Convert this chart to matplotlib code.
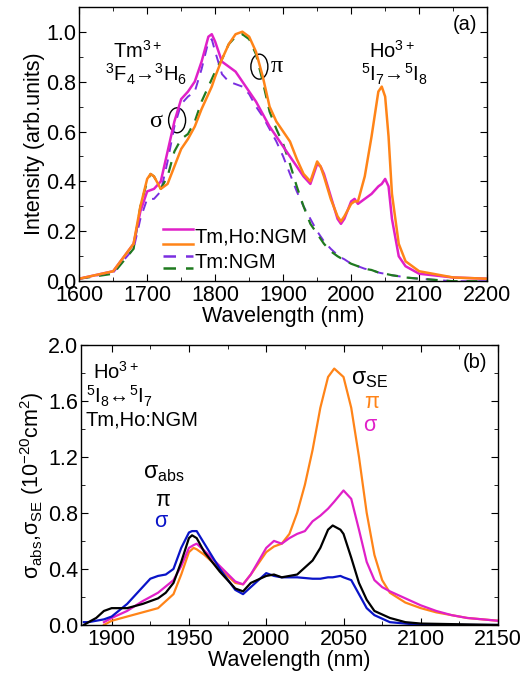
import numpy as np
import matplotlib
matplotlib.use("Agg")
from matplotlib import pyplot as plt
from matplotlib.patches import Ellipse
from matplotlib.ticker import MultipleLocator

plt.rcParams['font.family'] = ['Liberation Sans', 'DejaVu Sans']
plt.rcParams['mathtext.fontset'] = 'custom'
plt.rcParams['mathtext.rm'] = 'Liberation Sans'
plt.rcParams['mathtext.it'] = 'Liberation Sans'
plt.rcParams['mathtext.default'] = 'rm'

# ---- panel (a): luminescence spectra ----
wl_a = [1600, 1650, 1680, 1690, 1700, 1705, 1710, 1720, 1730, 1740, 1750, 1760, 1770, 1780,
        1790, 1795, 1800, 1810, 1820, 1830, 1840, 1850, 1860, 1870, 1880, 1890, 1900, 1910,
        1920, 1930, 1940, 1950, 1955, 1960, 1970, 1980, 1985, 1990, 2000, 2005, 2010, 2020,
        2030, 2040, 2045, 2050, 2055, 2060, 2070, 2080, 2100, 2150, 2200]
tmho_sigma = [0.01, 0.04, 0.15, 0.28, 0.36, 0.365, 0.37, 0.40, 0.52, 0.64, 0.73, 0.76, 0.80, 0.88,
              0.98, 0.99, 0.96, 0.88, 0.86, 0.84, 0.80, 0.76, 0.72, 0.67, 0.62, 0.58, 0.54, 0.50,
              0.46, 0.42, 0.39, 0.47, 0.46, 0.43, 0.34, 0.25, 0.23, 0.25, 0.32, 0.33, 0.31, 0.33,
              0.35, 0.38, 0.39, 0.41, 0.38, 0.25, 0.10, 0.06, 0.03, 0.015, 0.01]
tmho_pi = [0.01, 0.04, 0.15, 0.30, 0.41, 0.43, 0.42, 0.37, 0.39, 0.46, 0.53, 0.57, 0.62, 0.69,
           0.75, 0.78, 0.82, 0.89, 0.95, 0.99, 1.00, 0.98, 0.92, 0.82, 0.70, 0.64, 0.60, 0.56,
           0.49, 0.43, 0.40, 0.48, 0.46, 0.42, 0.33, 0.26, 0.24, 0.26, 0.31, 0.32, 0.32, 0.42,
           0.58, 0.76, 0.78, 0.74, 0.58, 0.35, 0.15, 0.08, 0.04, 0.015, 0.01]
tm_sigma = [0.01, 0.035, 0.13, 0.25, 0.33, 0.33, 0.33, 0.36, 0.48, 0.62, 0.71, 0.74, 0.76, 0.85,
            0.96, 0.97, 0.92, 0.83, 0.80, 0.79, 0.78, 0.75, 0.70, 0.66, 0.61, 0.56, 0.50, 0.43,
            0.36, 0.30, 0.25, 0.20, 0.18, 0.16, 0.13, 0.105, 0.095, 0.088, 0.07, 0.065, 0.06, 0.05,
            0.045, 0.035, 0.032, 0.03, 0.027, 0.024, 0.02, 0.015, 0.01, 0.0, 0.0]
tm_pi = [0.01, 0.03, 0.13, 0.30, 0.40, 0.43, 0.42, 0.37, 0.42, 0.52, 0.57, 0.59, 0.64, 0.72,
         0.78, 0.81, 0.84, 0.89, 0.95, 0.98, 0.99, 0.97, 0.91, 0.80, 0.68, 0.61, 0.55, 0.47,
         0.38, 0.30, 0.23, 0.19, 0.17, 0.15, 0.12, 0.10, 0.092, 0.085, 0.07, 0.065, 0.06, 0.05,
         0.045, 0.035, 0.032, 0.03, 0.027, 0.024, 0.02, 0.015, 0.01, 0.0, 0.0]

# ---- panel (b): cross-sections ----
wl_se = [1895, 1900, 1910, 1920, 1930, 1940, 1945, 1950, 1953, 1955, 1960, 1970, 1980, 1985,
         1990, 2000, 2005, 2010, 2015, 2020, 2025, 2030, 2035, 2040, 2044, 2050, 2055, 2060,
         2065, 2070, 2075, 2080, 2090, 2100, 2110, 2120, 2130, 2140, 2150]
se_pi = [0.0, 0.03, 0.06, 0.09, 0.12, 0.22, 0.36, 0.52, 0.55, 0.54, 0.50, 0.40, 0.30, 0.29,
         0.36, 0.52, 0.56, 0.58, 0.65, 0.80, 1.00, 1.25, 1.55, 1.77, 1.83, 1.77, 1.55, 1.20,
         0.80, 0.50, 0.32, 0.23, 0.16, 0.12, 0.09, 0.07, 0.05, 0.04, 0.03]
se_sigma = [0.02, 0.05, 0.10, 0.17, 0.23, 0.32, 0.42, 0.55, 0.57, 0.58, 0.53, 0.42, 0.31, 0.29,
            0.36, 0.55, 0.60, 0.58, 0.62, 0.65, 0.67, 0.74, 0.78, 0.83, 0.88, 0.96, 0.90, 0.68,
            0.45, 0.32, 0.27, 0.24, 0.19, 0.14, 0.10, 0.07, 0.05, 0.04, 0.03]

wl_abs = [1882, 1885, 1890, 1895, 1900, 1910, 1920, 1925, 1930, 1935, 1940, 1945, 1950, 1952,
          1955, 1960, 1970, 1980, 1985, 1990, 2000, 2005, 2010, 2020, 2030, 2035, 2040, 2043,
          2048, 2050, 2055, 2060, 2065, 2070, 2080, 2090, 2100, 2150]
abs_pi = [0.0, 0.02, 0.05, 0.10, 0.12, 0.12, 0.15, 0.17, 0.19, 0.23, 0.30, 0.45, 0.62, 0.64,
          0.62, 0.52, 0.38, 0.26, 0.24, 0.30, 0.35, 0.36, 0.34, 0.36, 0.46, 0.55, 0.68, 0.71,
          0.68, 0.65, 0.48, 0.30, 0.18, 0.10, 0.05, 0.02, 0.01, 0.0]
abs_sigma = [0.02, 0.02, 0.03, 0.04, 0.06, 0.15, 0.27, 0.33, 0.35, 0.36, 0.40, 0.55, 0.66, 0.67,
             0.67, 0.58, 0.40, 0.25, 0.22, 0.27, 0.37, 0.35, 0.34, 0.34, 0.33, 0.33, 0.34, 0.34,
             0.35, 0.34, 0.32, 0.22, 0.12, 0.07, 0.02, 0.01, 0.0, 0.0]

MAGENTA = '#e020c8'
ORANGE = '#ff8418'
PURPLE = '#7a2ee0'
GREEN = '#1f7a1f'
BLUE = '#0a14c8'

fig = plt.figure(figsize=(5.21, 6.76), dpi=100)
ax1 = fig.add_axes([0.152, 0.584, 0.783, 0.406])
ax2 = fig.add_axes([0.155, 0.0755, 0.801, 0.4145])

fs = 15.5
fa = 14.5  # annotation size


def style_axis(ax):
    ax.tick_params(which='both', direction='in', top=True, right=True, labelsize=fs)
    ax.tick_params(axis='x', pad=3)
    ax.tick_params(axis='y', pad=2)
    ax.tick_params(which='major', length=5)
    ax.tick_params(which='minor', length=3)
    for s in ax.spines.values():
        s.set_linewidth(1.0)


# panel (a)
ax1.plot(wl_a, tm_sigma, color=PURPLE, lw=1.4, ls=(0, (5, 4)))
ax1.plot(wl_a, tm_pi, color=GREEN, lw=1.6, ls=(0, (5, 4)))
ax1.plot(wl_a, tmho_sigma, color=MAGENTA, lw=1.8)
ax1.plot(wl_a, tmho_pi, color=ORANGE, lw=1.8)
ax1.set_xlim(1600, 2200)
ax1.set_ylim(0, 1.1)
ax1.xaxis.set_major_locator(MultipleLocator(100))
ax1.xaxis.set_minor_locator(MultipleLocator(50))
ax1.set_yticks([0, 0.2, 0.4, 0.6, 0.8, 1.0])
ax1.yaxis.set_minor_locator(MultipleLocator(0.1))
ax1.set_xlabel('Wavelength (nm)', fontsize=fs, labelpad=0)
ax1.set_ylabel('Intensity (arb.units)', fontsize=fs, labelpad=1)
style_axis(ax1)

ax1.text(0.975, 0.935, '(a)', transform=ax1.transAxes, ha='right', va='center', fontsize=fa)
ax1.text(1686, 0.925, 'Tm$^{3+}$', ha='center', va='center', fontsize=fa)
ax1.text(1698, 0.83, '$^3$F$_4$\u2192$^3$H$_6$', ha='center', va='center', fontsize=fa)
ax1.text(2060, 0.925, 'Ho$^{3+}$', ha='center', va='center', fontsize=fa)
ax1.text(2063, 0.83, '$^5$I$_7$\u2192$^5$I$_8$', ha='center', va='center', fontsize=fa)
ax1.text(1712, 0.64, '\u03c3', ha='center', va='center', fontsize=fs + 2, family='Liberation Serif')
ax1.text(1891, 0.86, '\u03c0', ha='center', va='center', fontsize=fs + 2, family='Liberation Serif')
ax1.add_patch(Ellipse((1744, 0.645), 25, 0.10, fill=False, lw=1.0, ec='black'))
ax1.add_patch(Ellipse((1865, 0.86), 25, 0.10, fill=False, lw=1.0, ec='black'))

# stacked legend handles
for yy, col, ls in [(0.190, MAGENTA, '-'), (0.135, ORANGE, '-'),
                    (0.092, PURPLE, (0, (5, 4))), (0.048, GREEN, (0, (5, 4)))]:
    ax1.plot([0.206, 0.279], [yy, yy], transform=ax1.transAxes, color=col, lw=1.8, ls=ls)
ax1.text(0.283, 0.160, 'Tm,Ho:NGM', transform=ax1.transAxes, ha='left', va='center', fontsize=fa)
ax1.text(0.283, 0.068, 'Tm:NGM', transform=ax1.transAxes, ha='left', va='center', fontsize=fa)

# panel (b)
ax2.plot(wl_se, se_pi, color=ORANGE, lw=1.6)
ax2.plot(wl_se, se_sigma, color=MAGENTA, lw=1.6)
ax2.plot(wl_abs, abs_sigma, color=BLUE, lw=1.6)
ax2.plot(wl_abs, abs_pi, color='black', lw=1.6)
ax2.set_xlim(1880, 2150)
ax2.set_ylim(0, 2.0)
ax2.xaxis.set_major_locator(MultipleLocator(50))
ax2.xaxis.set_minor_locator(MultipleLocator(25))
ax2.yaxis.set_major_locator(MultipleLocator(0.4))
ax2.yaxis.set_minor_locator(MultipleLocator(0.2))
ax2.set_xlabel('Wavelength (nm)', fontsize=fs, labelpad=0)
ax2.set_ylabel('\u03c3$_{abs}$,\u03c3$_{SE}$ (10$^{-20}$cm$^2$)', fontsize=fs, labelpad=1)
style_axis(ax2)

ax2.text(0.974, 0.936, '(b)', transform=ax2.transAxes, ha='right', va='center', fontsize=fa)
ax2.text(1903, 1.81, 'Ho$^{3+}$', ha='center', va='center', fontsize=fa)
ax2.text(1905, 1.63, '$^5$I$_8$\u2194$^5$I$_7$', ha='center', va='center', fontsize=fa)
ax2.text(1919.5, 1.46, 'Tm,Ho:NGM', ha='center', va='center', fontsize=fa)
ax2.text(2067, 1.76, '\u03c3$_{SE}$', ha='center', va='center', fontsize=fs + 1)
ax2.text(2068, 1.585, '\u03c0', ha='center', va='center', fontsize=fs, color=ORANGE)
ax2.text(2067, 1.425, '\u03c3', ha='center', va='center', fontsize=fs, color=MAGENTA)
ax2.text(1934, 1.09, '\u03c3$_{abs}$', ha='center', va='center', fontsize=fs + 1)
ax2.text(1933, 0.89, '\u03c0', ha='center', va='center', fontsize=fs)
ax2.text(1932, 0.74, '\u03c3', ha='center', va='center', fontsize=fs, color=BLUE)

fig.savefig('out.png', dpi=100)
